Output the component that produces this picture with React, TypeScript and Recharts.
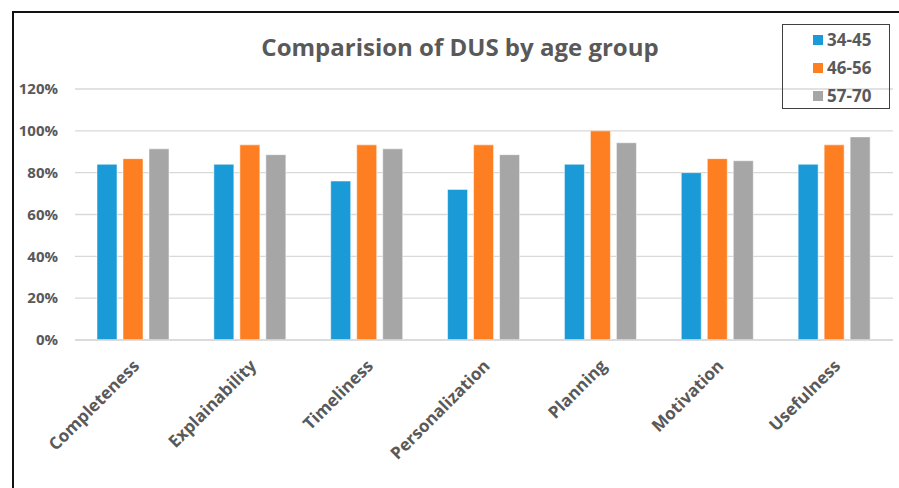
import React from 'react';
import { BarChart, Bar, XAxis, YAxis, CartesianGrid } from 'recharts';

const categories = ['Completeness', 'Explainability', 'Timeliness', 'Personalization', 'Planning', 'Motivation', 'Usefulness'];
const group3445 = [0.84, 0.84, 0.76, 0.72, 0.84, 0.8, 0.84];
const group4656 = [0.867, 0.933, 0.933, 0.933, 1.0, 0.867, 0.933];
const group5770 = [0.914, 0.886, 0.914, 0.886, 0.943, 0.857, 0.971];
const yTicks = [0, 0.2, 0.4, 0.6, 0.8, 1.0, 1.2];

const series = [
  { key: 'a', name: '34-45', color: '#1A9BD7', values: group3445 },
  { key: 'b', name: '46-56', color: '#FE7F22', values: group4656 },
  { key: 'c', name: '57-70', color: '#A6A6A6', values: group5770 },
];

const data = categories.map((cat, i) => ({
  category: cat,
  a: group3445[i],
  b: group4656[i],
  c: group5770[i],
}));

const FONT = '"Open Sans", sans-serif';
const TEXT = '#595959';

const XTick = (props: any) => {
  const { x, y, payload } = props;
  return (
    <g transform={`translate(${x + 7},${y + 19})`}>
      <text
        transform="rotate(-45)"
        textAnchor="end"
        fill={TEXT}
        fontFamily={FONT}
        fontWeight={700}
        fontSize={17}
      >
        {payload.value}
      </text>
    </g>
  );
};

export default function App() {
  return (
    <div style={{ position: 'absolute', left: 0, top: 0, width: 899, height: 488, background: '#fff', overflow: 'hidden' }}>
      <BarChart
        width={899}
        height={488}
        data={data}
        margin={{ top: 89, right: 6, left: 0, bottom: 48 }}
        barGap={6}
        barSize={20}
      >
        <CartesianGrid vertical={false} stroke="#D9D9D9" strokeWidth={1.3} />
        <XAxis
          dataKey="category"
          interval={0}
          height={100}
          tickLine={false}
          axisLine={{ stroke: '#D9D9D9', strokeWidth: 1.5 }}
          tick={<XTick />}
        />
        <YAxis
          width={75}
          domain={[0, 1.2]}
          ticks={yTicks}
          tickFormatter={(v: number) => `${Math.round(v * 100)}%`}
          tickLine={false}
          axisLine={false}
          tickMargin={11}
          tick={{ fill: TEXT, fontFamily: FONT, fontWeight: 700, fontSize: 15 }}
        />
        {series.map((s) => (
          <Bar
            key={s.key}
            dataKey={s.key}
            name={s.name}
            fill={s.color}
            stroke="#ffffff"
            strokeOpacity={0.5}
            strokeWidth={1}
            isAnimationActive={false}
          />
        ))}
      </BarChart>

      {/* title */}
      <div
        style={{
          position: 'absolute', left: 0, top: 30, width: 920, textAlign: 'center',
          fontFamily: FONT, fontWeight: 700, fontSize: 24, color: TEXT,
        }}
      >
        Comparision of DUS by age group
      </div>

      {/* legend */}
      <div
        style={{
          position: 'absolute', left: 782, top: 24, width: 108, height: 85,
          border: '1.5px solid #404040', boxSizing: 'border-box',
        }}
      >
        {series.map((s, i) => (
          <div
            key={s.key}
            style={{
              position: 'absolute', left: 30, top: 3 + i * 28, display: 'flex', alignItems: 'center',
              fontFamily: FONT, fontWeight: 700, fontSize: 17, color: TEXT,
            }}
          >
            <span style={{ display: 'inline-block', width: 10, height: 10, background: s.color, marginRight: 4 }} />
            {s.name}
          </div>
        ))}
      </div>

      {/* frame */}
      <div style={{ position: 'absolute', left: 12, top: 11, width: 2, height: 477, background: '#111' }} />
      <div style={{ position: 'absolute', left: 12, top: 11, width: 887, height: 2, background: '#111' }} />
    </div>
  );
}
